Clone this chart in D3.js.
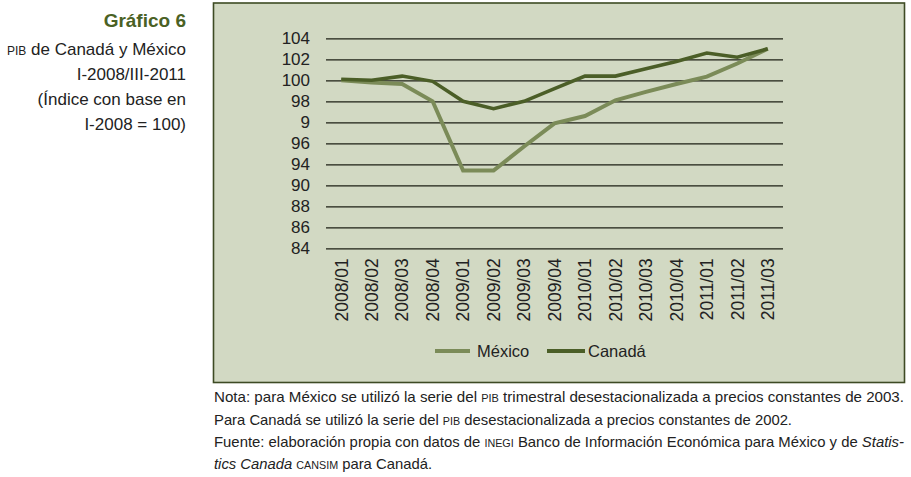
<!DOCTYPE html>
<html>
<head>
<meta charset="utf-8">
<style>
  body { margin: 0; background: #fff; }
  svg text { font-family: "Liberation Sans", Arial, sans-serif; }
</style>
</head>
<body>
<script src="https://cdn.jsdelivr.net/npm/d3@7/dist/d3.min.js"></script>
<script>
// chart data
const quarters = ["2008/01", "2008/02", "2008/03", "2008/04", "2009/01", "2009/02", "2009/03", "2009/04",
                  "2010/01", "2010/02", "2010/03", "2010/04", "2011/01", "2011/02", "2011/03"];
const mexico = [100.0, 99.8, 99.65, 98.0, 91.4, 91.4, 93.7, 95.9, 96.6, 98.1, 98.9, 99.65, 100.35, 101.6, 103.0];
const canada = [100.1, 100.0, 100.4, 99.9, 98.0, 97.3, 98.0, 99.2, 100.4, 100.4, 101.1, 101.8, 102.6, 102.2, 103.0];
const yTicks = [104, 102, 100, 98, 96, 94, 92, 90, 88, 86, 84];
// labels as printed in the original (with its typos)
const yTickLabels = ["104", "102", "100", "98", "9", "96", "94", "90", "88", "86", "84"];
const seriesNames = ["México", "Canadá"];
const seriesColors = ["#7b8b58", "#4b5e27"];

const W = 911, H = 477;
const svg = d3.select("body").append("svg")
  .attr("width", W)
  .attr("height", H);

// panel
svg.append("rect")
  .attr("x", 213.5).attr("y", 3)
  .attr("width", 691).attr("height", 379.5)
  .attr("fill", "#d2d9c3")
  .attr("stroke", "#3e4b24")
  .attr("stroke-width", 1.6);

// title block
const titleLines = [
  { y: 27, parts: [{ t: "Gráfico 6", size: 19, weight: "bold", fill: "#4a6124" }] },
  { y: 55, parts: [{ t: "PIB", size: 12 }, { t: " de Canadá y México", size: 17 }] },
  { y: 80, parts: [{ t: "I-2008/III-2011", size: 17 }] },
  { y: 105, parts: [{ t: "(Índice con base en", size: 17 }] },
  { y: 130, parts: [{ t: "I-2008 = 100)", size: 17 }] }
];
titleLines.forEach(function (l) {
  const t = svg.append("text")
    .attr("x", 186).attr("y", l.y)
    .attr("text-anchor", "end")
    .attr("fill", "#222");
  l.parts.forEach(function (p) {
    t.append("tspan")
      .attr("font-size", p.size)
      .attr("font-weight", p.weight || "normal")
      .attr("fill", p.fill || "#222")
      .text(p.t);
  });
});

// scales
const x = d3.scaleBand().domain(quarters).range([326, 783]);
const y = d3.scaleLinear().domain([84, 104]).range([248.3, 38.3]);

// y axis with gridlines
const yAxis = d3.axisLeft(y)
  .tickValues(yTicks)
  .tickSize(-(783 - 326))
  .tickPadding(16)
  .tickFormat((d, i) => yTickLabels[i]);

const gy = svg.append("g")
  .attr("transform", "translate(326,0)")
  .call(yAxis);
gy.select(".domain").remove();
gy.selectAll(".tick line").attr("stroke", "#1c1f14").attr("stroke-width", 1.3);
gy.selectAll(".tick text")
  .attr("font-size", 17)
  .attr("fill", "#222")
  .attr("x", -16);

// x axis labels (rotated)
const gx = svg.append("g")
  .attr("transform", "translate(0,248.3)")
  .call(d3.axisBottom(x).tickSize(0));
gx.select(".domain").remove();
gx.selectAll(".tick text")
  .attr("font-size", 17.5)
  .attr("fill", "#222")
  .attr("transform", "rotate(-90)")
  .attr("text-anchor", "end")
  .attr("x", -10)
  .attr("y", 0)
  .attr("dy", "0.36em");

// lines
const line = d3.line()
  .x((d, i) => x(quarters[i]) + x.bandwidth() / 2)
  .y(d => y(d));

[mexico, canada].forEach(function (s, k) {
  svg.append("path")
    .datum(s)
    .attr("fill", "none")
    .attr("stroke", seriesColors[k])
    .attr("stroke-width", k === 0 ? 4 : 3.6)
    .attr("stroke-linejoin", "miter")
    .attr("d", line);
});

// legend
const legendPos = [{ x1: 435, x2: 470, tx: 477 }, { x1: 547, x2: 585, tx: 588 }];
seriesNames.forEach(function (n, k) {
  svg.append("line")
    .attr("x1", legendPos[k].x1).attr("x2", legendPos[k].x2)
    .attr("y1", 351).attr("y2", 351)
    .attr("stroke", seriesColors[k])
    .attr("stroke-width", 4);
  svg.append("text")
    .attr("x", legendPos[k].tx).attr("y", 357)
    .attr("font-size", 16.5)
    .attr("fill", "#222")
    .text(n);
});

// notes
const notes = [
  { y: 402, fit: 690, parts: [{ t: "Nota: para México se utilizó la serie del " }, { t: "PIB", sc: true }, { t: " trimestral desestacionalizada a precios constantes de 2003." }] },
  { y: 425, fit: 578, parts: [{ t: "Para Canadá se utilizó la serie del " }, { t: "PIB", sc: true }, { t: " desestacionalizada a precios constantes de 2002." }] },
  { y: 447, fit: 690, parts: [{ t: "Fuente: elaboración propia con datos de " }, { t: "INEGI", sc: true }, { t: " Banco de Información Económica para México y de " }, { t: "Statis-", it: true }] },
  { y: 469, fit: 218, parts: [{ t: "tics Canada", it: true }, { t: " " }, { t: "CANSIM", sc: true }, { t: " para Canadá." }] }
];
notes.forEach(function (l) {
  const t = svg.append("text")
    .attr("x", 214).attr("y", l.y)
    .attr("font-size", 14.5)
    .attr("fill", "#222");
  l.parts.forEach(function (p) {
    t.append("tspan")
      .attr("font-size", p.sc ? 10.5 : 14.5)
      .attr("font-style", p.it ? "italic" : "normal")
      .text(p.t);
  });
  t.attr("textLength", l.fit).attr("lengthAdjust", "spacingAndGlyphs");
});
</script>
</body>
</html>
